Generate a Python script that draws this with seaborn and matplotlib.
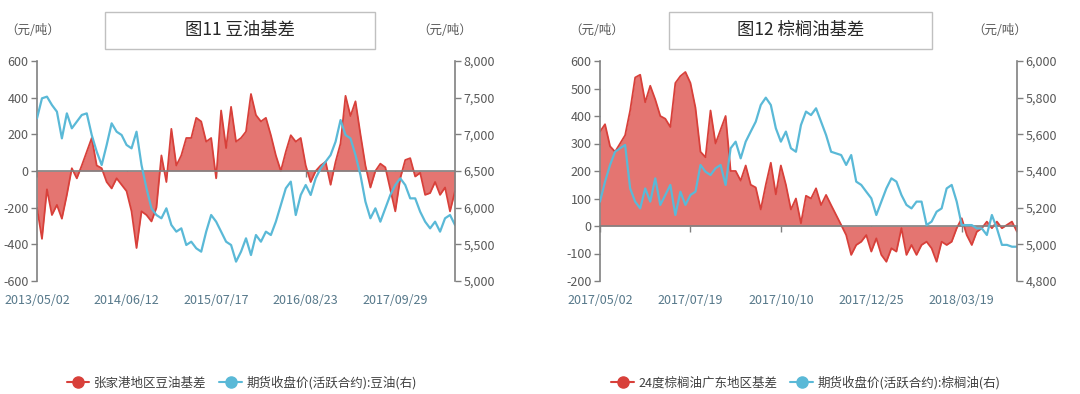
import numpy as np
import pandas as pd
import matplotlib
matplotlib.use('Agg')
import matplotlib.pyplot as plt
import seaborn as sns
from matplotlib.lines import Line2D
from matplotlib.patches import Rectangle
from matplotlib.ticker import FuncFormatter

sns.set_theme(style='white')
plt.rcParams['font.family'] = ['Noto Sans CJK SC', 'DejaVu Sans']
plt.rcParams['axes.unicode_minus'] = False

# ---------------- data: soybean oil (图11) ----------------
soy_basis = [
    -200, -370, -100, -240, -185, -260, -130, 15, -40, 30, 105, 180, 30, 15,
    -60, -95, -40, -75, -110, -220, -420, -220, -240, -275, -200, 85, -60, 230,
    30, 85, 180, 180, 290, 270, 160, 180, -40, 330, 125, 350, 160, 180,
    215, 420, 305, 270, 290, 195, 85, 0, 105, 195, 160, 180, 30, -60,
    0, 30, 50, -75, 50, 150, 410, 300, 380, 200, 30, -90, 0, 40,
    20, -100, -220, -40, 60, 70, -30, -10, -130, -120, -60, -130, -90, -220,
    -110,
]
soy_futures = [
    7218, 7491, 7514, 7400, 7309, 6945, 7286, 7082, 7173, 7264, 7286, 6991, 6764, 6582,
    6855, 7150, 7036, 6991, 6855, 6809, 7036, 6582, 6264, 5991, 5900, 5855, 5991, 5764,
    5673, 5718, 5491, 5536, 5446, 5400, 5673, 5900, 5809, 5673, 5536, 5491, 5264, 5400,
    5582, 5354, 5627, 5536, 5673, 5627, 5809, 6036, 6264, 6355, 5900, 6173, 6309, 6173,
    6400, 6536, 6627, 6718, 6900, 7195, 6991, 6945, 6718, 6445, 6082, 5855, 5991, 5809,
    5991, 6173, 6309, 6400, 6309, 6127, 6127, 5945, 5809, 5718, 5809, 5673, 5855, 5900,
    5764,
]
soy_date_labels = ['2013/05/02', '2014/06/12', '2015/07/17', '2016/08/23', '2017/09/29']
soy_left_ticks = [-600, -400, -200, 0, 200, 400, 600]
soy_right_ticks = [5000, 5500, 6000, 6500, 7000, 7500, 8000]
soy_names = ['张家港地区豆油基差', '期货收盘价(活跃合约):豆油(右)']
soy_title = '图11 豆油基差'

# ---------------- data: palm oil (图12) ----------------
palm_basis = [
    343, 370, 290, 270, 300, 330, 420, 540, 550, 450, 510, 460, 400, 390,
    360, 520, 545, 560, 520, 430, 270, 250, 420, 300, 350, 400, 200, 200,
    165, 220, 150, 140, 60, 150, 230, 115, 220, 150, 60, 100, 10, 110,
    100, 137, 76, 113, 76, 40, 4, -33, -105, -69, -57, -33, -93, -45,
    -105, -130, -81, -93, -8, -105, -69, -105, -69, -57, -81, -130, -57, -69,
    -57, -8, 28, -33, -69, -21, -8, 16, -8, 16, -8, 4, 16, -21,
]
palm_futures = [
    5233, 5342, 5433, 5505, 5524, 5542, 5305, 5233, 5196, 5305, 5233, 5360, 5215, 5269,
    5324, 5160, 5287, 5215, 5269, 5287, 5433, 5396, 5378, 5415, 5433, 5324, 5524, 5560,
    5469, 5560, 5615, 5669, 5760, 5800, 5760, 5633, 5560, 5615, 5524, 5505, 5651, 5724,
    5705, 5742, 5669, 5596, 5505, 5496, 5487, 5433, 5487, 5342, 5324, 5287, 5251, 5160,
    5233, 5305, 5360, 5342, 5269, 5215, 5196, 5233, 5233, 5105, 5124, 5178, 5196, 5305,
    5324, 5233, 5105, 5105, 5105, 5087, 5087, 5051, 5160, 5087, 4997, 4997, 4987, 4987,
]
palm_date_labels = ['2017/05/02', '2017/07/19', '2017/10/10', '2017/12/25', '2018/03/19']
palm_left_ticks = [-200, -100, 0, 100, 200, 300, 400, 500, 600]
palm_right_ticks = [4800, 5000, 5200, 5400, 5600, 5800, 6000]
palm_names = ['24度棕榈油广东地区基差', '期货收盘价(活跃合约):棕榈油(右)']
palm_title = '图12 棕榈油基差'

unit_text = '（元/吨）'

# ---------------- styling ----------------
RED = '#d8403a'
FILL = '#e47571'
BLUE = '#5ab9d7'
AXIS = '#808080'
TICKTXT = '#595959'
DATETXT = '#56788a'
W, H = 1080, 394

fig = plt.figure(figsize=(W / 100, H / 100), dpi=100)
fig.patch.set_facecolor('white')


def fx(px):
    return px / W


def fy(py):
    return 1 - py / H


def draw_panel(x0, x1, basis, futures, date_labels, lticks, rticks, names, title,
               box, unit_left, unit_right, legend_cx):
    ax = fig.add_axes([fx(x0), fy(281), fx(x1 - x0), fy(61) - fy(281)])
    n = len(basis)
    df = pd.DataFrame({'idx': np.arange(n), 'basis': basis, 'futures': futures})

    ax.fill_between(df['idx'], 0, df['basis'], color=FILL, lw=0, zorder=1)
    sns.lineplot(data=df, x='idx', y='basis', ax=ax, color=RED, lw=1.3, zorder=2)
    ax.set_xlim(0, n - 1)
    ax.set_ylim(lticks[0], lticks[-1])
    ax.set_yticks(lticks)
    ax.set_yticklabels([str(v) for v in lticks])
    ax.set_xlabel('')
    ax.set_ylabel('')
    for s in ['top', 'right']:
        ax.spines[s].set_visible(False)
    ax.spines['left'].set_color(AXIS)
    ax.spines['left'].set_linewidth(1.2)
    ax.spines['bottom'].set_position(('data', 0))
    ax.spines['bottom'].set_color(AXIS)
    ax.spines['bottom'].set_linewidth(1.2)
    ax.spines['bottom'].set_zorder(3)
    step = 18
    pos = [i * step for i in range(len(date_labels))]
    ax.set_xticks(pos)
    ax.tick_params(axis='x', bottom=True, direction='out', length=4, width=1,
                   color=AXIS, labelbottom=False)
    ax.tick_params(axis='y', left=True, direction='out', length=4, width=1,
                   color=AXIS, labelsize=9, labelcolor=TICKTXT, pad=2)

    sec = ax.secondary_xaxis('bottom')
    sec.set_xticks(pos)
    sec.set_xticklabels(date_labels)
    sec.tick_params(length=0, pad=9, labelsize=9, labelcolor=DATETXT)
    sec.spines['bottom'].set_visible(False)

    ax2 = ax.twinx()
    sns.lineplot(data=df, x='idx', y='futures', ax=ax2, color=BLUE, lw=1.6)
    ax2.set_xlim(0, n - 1)
    ax2.set_ylim(rticks[0], rticks[-1])
    ax2.set_yticks(rticks)
    ax2.yaxis.set_major_formatter(FuncFormatter(lambda v, p: f'{int(v):,}'))
    ax2.set_ylabel('')
    for s in ['top', 'left', 'bottom']:
        ax2.spines[s].set_visible(False)
    ax2.spines['right'].set_color(AXIS)
    ax2.spines['right'].set_linewidth(1.2)
    ax2.tick_params(axis='y', right=True, direction='out', length=4, width=1,
                    color=AXIS, labelsize=9, labelcolor=TICKTXT, pad=2)

    # title box
    bx0, bx1, by0, by1 = box
    fig.patches.append(Rectangle((fx(bx0), fy(by1)), fx(bx1 - bx0), fy(by0) - fy(by1),
                                 transform=fig.transFigure, fill=False,
                                 edgecolor='#c0c0c0', lw=1.0))
    fig.text(fx((bx0 + bx1) / 2), fy((by0 + by1) / 2), title, ha='center', va='center',
             fontsize=12.5, color='#262626')
    fig.text(fx(unit_left), fy(31), unit_text, ha='center', va='center',
             fontsize=9, color=TICKTXT)
    fig.text(fx(unit_right), fy(31), unit_text, ha='center', va='center',
             fontsize=9, color=TICKTXT)

    handles = [Line2D([], [], color=RED, marker='o', markersize=8, lw=1.5),
               Line2D([], [], color=BLUE, marker='o', markersize=8, lw=1.5)]
    leg = fig.legend(handles, names, loc='center', bbox_to_anchor=(fx(legend_cx), fy(383)),
                     ncol=2, frameon=False, fontsize=9, handlelength=1.8,
                     columnspacing=1.0, handletextpad=0.4)
    for t in leg.get_texts():
        t.set_color('#404040')
    return ax, ax2


draw_panel(37, 455, soy_basis, soy_futures, soy_date_labels, soy_left_ticks,
           soy_right_ticks, soy_names, soy_title, (105, 375, 12, 49), 33, 445, 242)
draw_panel(600, 1017, palm_basis, palm_futures, palm_date_labels, palm_left_ticks,
           palm_right_ticks, palm_names, palm_title, (669, 932, 12, 49), 597, 1000, 806)

fig.savefig('out.png', dpi=100, facecolor='white')
